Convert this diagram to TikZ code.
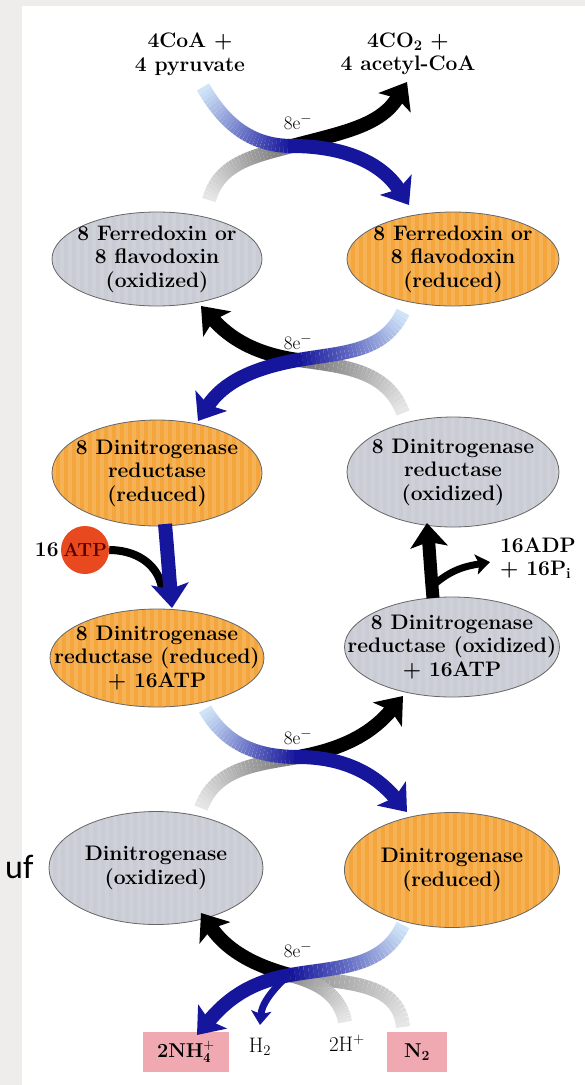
\documentclass[tikz,border=0pt]{standalone}
\usepackage{fontspec}
\usetikzlibrary{shapes.geometric,arrows.meta,positioning}
\newfontfamily\slidefont{Carlito}

\definecolor{grisfond}{HTML}{EFEDEC}
\definecolor{cox}{HTML}{C9CCD4}
\definecolor{cred}{HTML}{F4A63C}
\definecolor{bleu}{HTML}{16169C}
\definecolor{bleuclair}{HTML}{CFE4F8}
\definecolor{grisclair}{HTML}{E6E6E6}
\colorlet{grisfonce}{black!55}
\colorlet{grismoyen}{black!45}
\definecolor{rose}{HTML}{F1A9B1}
\definecolor{rouge}{HTML}{E8491E}

\tikzset{
  etiq/.style={align=center, inner sep=0pt, font=\fontsize{21}{23.5}\selectfont\bfseries},
  etat/.style={ellipse, draw=black!60, line width=0.8pt, inner sep=0pt},
  etatox/.style={etat, fill=cox, path picture={
    \foreach \k in {0,...,28}
      \fill[white, opacity=0.10] ([xshift=\k*8pt]path picture bounding box.south west) rectangle ++(4pt,140pt);}},
  etatred/.style={etat, fill=cred, path picture={
    \foreach \k in {0,...,28}
      \fill[white, opacity=0.14] ([xshift=\k*8pt]path picture bounding box.south west) rectangle ++(4pt,140pt);}},
  elec/.style={font=\fontsize{19}{19}\selectfont},
  boite/.style={fill=rose, inner sep=0pt, font=\fontsize{20}{20}\selectfont\bfseries},
  flux/.style={line width=14pt},
  pointe/.style={-{Stealth[length=24pt,width=37pt,inset=5pt]}},
  petitepointe/.style={-{Stealth[length=14pt,width=20pt,inset=3pt]}}
}

% arc en degrade : depart, out, in, arrivee, couleur debut, couleur fin
\newcommand{\fondu}[6]{%
  \foreach \i [evaluate=\i as \ta using \i/30] in {0,...,30}
    \path (#1) to[out=#2,in=#3] coordinate[pos=\ta] (g\i) (#4);
  \foreach \i [count=\j from 1, evaluate=\i as \p using int(100*\i/29)] in {0,...,29}
    \draw[flux, color=#6!\p!#5] (g\i) -- (g\j);
}

\begin{document}
\begin{tikzpicture}[x=1pt,y=1pt]

\useasboundingbox (0,0) rectangle (585,-1085);
\fill[grisfond] (0,0) rectangle (585,-1085);
\fill[white] (22,-6) rectangle (585,-1085);

\node[anchor=base west, inner sep=0pt, font=\slidefont\fontsize{34}{34}\selectfont] (uf) at (5,-878) {uf};

\node[etiq] (pyr) at (190,-54) {4CoA +\\4 pyruvate};
\node[etiq] (acoa) at (408,-54) {4CO\textsubscript{2} +\\4 acetyl-CoA};

\node[etatox, minimum width=210pt, minimum height=94pt, label={[etiq]center:{8 Ferredoxin or\\8 flavodoxin\\(oxidized)}}] (fdox) at (157,-259) {};
\node[etatred, minimum width=212pt, minimum height=94pt, label={[etiq]center:{8 Ferredoxin or\\8 flavodoxin\\(reduced)}}] (fdred) at (453,-259) {};
\node[etatred, minimum width=210pt, minimum height=106pt, label={[etiq]center:{8 Dinitrogenase\\reductase\\(reduced)}}] (drred) at (157,-473) {};
\node[etatox, minimum width=212pt, minimum height=110pt, label={[etiq]center:{8 Dinitrogenase\\reductase\\(oxidized)}}] (drox) at (453,-472) {};
\node[etatred, minimum width=214pt, minimum height=98pt, label={[etiq]center:{8 Dinitrogenase\\reductase (reduced)\\+ 16ATP}}] (drredatp) at (157,-658) {};
\node[etatox, minimum width=215pt, minimum height=100pt, label={[etiq]center:{8 Dinitrogenase\\reductase (oxidized)\\+ 16ATP}}] (droxatp) at (452,-647) {};
\node[etatox, minimum width=214pt, minimum height=113pt, label={[etiq]center:{Dinitrogenase\\(oxidized)}}] (nox) at (156,-868) {};
\node[etatred, minimum width=215pt, minimum height=115pt, label={[etiq]center:{Dinitrogenase\\(reduced)}}] (nred) at (452,-870) {};

\node[circle, fill=rouge, minimum size=48pt, inner sep=0pt, text=black!65!red, font=\fontsize{19}{19}\selectfont\bfseries] (atp) at (85,-550) {ATP};
\node[etiq, anchor=east] (n16) at ([xshift=-2pt]atp.west) {16};
\node[etiq, align=left] (adp) at (538,-558) {16ADP\\+ 16P\textsubscript{i}};

\node[boite, minimum width=86pt, minimum height=40pt] (nh4) at (186,-1052) {2NH$_{\mathbf{4}}^{\mathbf{+}}$};
\node[boite, minimum width=60pt, minimum height=40pt] (n2) at (417,-1052) {N\textsubscript{2}};
\node[elec, font=\fontsize{21}{21}\selectfont] (h2) at (260,-1047) {H\textsubscript{2}};
\node[elec, font=\fontsize{21}{21}\selectfont] (hp) at (347,-1043) {2H\textsuperscript{+}};

\node[elec] (e1) at (298,-122) {8e$^-$};
\node[elec] (e2) at (298,-342) {8e$^-$};
\node[elec] (e3) at (298,-737) {8e$^-$};
\node[elec] (e4) at (298,-950) {8e$^-$};

% croisements
\coordinate (x1) at (292,-146);
\coordinate (x2) at (298,-360);
\coordinate (x3) at (298,-757);
\coordinate (x4) at (290,-975);

\coordinate (a1) at (203,-87);  \coordinate (ta1) at (409,-205);
\coordinate (b1) at (209,-200); \coordinate (tb1) at (407,-82);
\coordinate (a2) at (403,-312); \coordinate (ta2) at (198,-421);
\coordinate (b2) at (403,-413); \coordinate (tb2) at (201,-306);
\coordinate (a3) at (205,-709); \coordinate (ta3) at (407,-812);
\coordinate (b3) at (201,-808); \coordinate (tb3) at (403,-696);
\coordinate (a4) at (403,-925); \coordinate (ta4) at (197,-1035);
\coordinate (tb4) at (201,-913);
\coordinate (hh) at (345,-1022); \coordinate (nn) at (403,-1027);
\coordinate (h0) at (285,-978); \coordinate (th) at (260,-1025);

% croisement du haut
\fondu{b1}{75}{195}{x1}{grisclair}{grisfonce}
\draw[flux, black, pointe] (x1) to[out=15,in=-121] (tb1);
\fondu{a1}{-60}{180}{x1}{bleuclair}{bleu}
\draw[flux, bleu, pointe] (x1) to[out=0,in=123] (ta1);

\fondu{b2}{110}{-8}{x2}{grisclair}{grisfonce}
\draw[flux, black, pointe] (x2) to[out=172,in=-48] (tb2);
\fondu{a2}{-115}{10}{x2}{bleuclair}{bleu}
\draw[flux, bleu, pointe] (x2) to[out=190,in=57] (ta2);

\fondu{b3}{70}{190}{x3}{grisclair}{grisfonce}
\draw[flux, black, pointe] (x3) to[out=10,in=230] (tb3);
\fondu{a3}{-60}{180}{x3}{bleuclair}{bleu}
\draw[flux, bleu, pointe] (x3) to[out=0,in=130] (ta3);

% croisement du bas
\fondu{nn}{95}{-10}{x4}{grisclair}{grismoyen}
\fondu{hh}{100}{-15}{x4}{grisclair}{grismoyen}
\draw[flux, black, pointe] (x4) to[out=165,in=-55] (tb4);
\fondu{a4}{-115}{10}{x4}{bleuclair}{bleu}
\draw[flux, bleu, pointe] (x4) to[out=190,in=50] (ta4);
\draw[line width=7pt, bleu, petitepointe] (h0) to[out=225,in=85] (th);

% ATP et ADP
\coordinate (v0) at (165,-524); \coordinate (v1) at (172,-608);
\coordinate (jatp) at (162,-588);
\draw[line width=8pt, black] (atp.east) to[out=0,in=100] (jatp);
\draw[flux, bleu, pointe] (v0) to[out=-85,in=95] (v1);

\coordinate (r0) at (433,-598); \coordinate (r1) at (427,-523);
\coordinate (r2) at (436,-583); \coordinate (r3) at (490,-562);
\draw[line width=13pt, black, pointe] (r0) to[out=95,in=-85] (r1);
\draw[line width=7pt, black, petitepointe] (r2) to[out=40,in=190] (r3);

\end{tikzpicture}
\end{document}
